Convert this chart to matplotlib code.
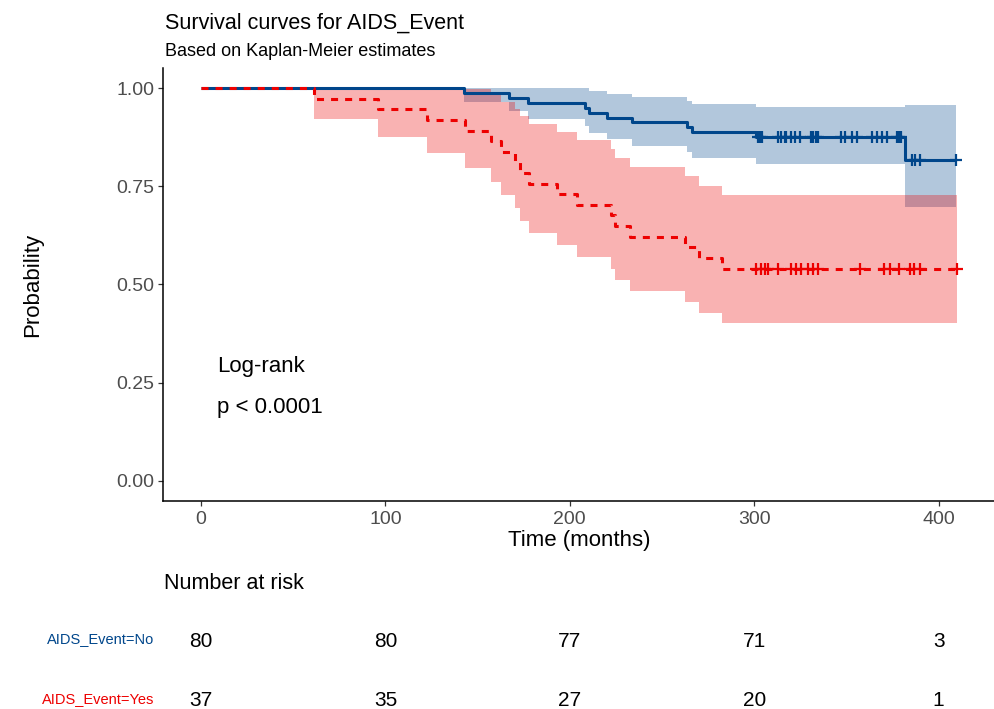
import numpy as np
import matplotlib
matplotlib.use("Agg")
import matplotlib.pyplot as plt
from matplotlib.transforms import blended_transform_factory

plt.rcParams['font.family'] = ['Liberation Sans', 'DejaVu Sans']

# ---------------- data ----------------
groups = ["AIDS_Event=No", "AIDS_Event=Yes"]
colors = ["#00468B", "#ED0000"]

# AIDS_Event = No  (n = 80)
no_event_times = [142.5, 167.0, 177.3, 208.5, 210.3, 220.2, 233.5, 263.6, 266.5, 301.0, 382.0]
no_censor_times = [302.0, 303.0, 304.3, 313.0, 314.5, 316.6, 317.5, 319.9, 322.1, 324.8,
                   330.8, 332.1, 333.3, 334.8, 347.1, 349.3, 352.9, 355.7, 363.8, 366.6,
                   369.3, 372.0, 377.5, 378.7, 379.8, 385.6, 387.1, 390.2, 409.2]
no_censor_counts = [3, 2, 2, 2, 2, 3, 2, 3, 2, 2,
                    2, 2, 3, 2, 2, 2, 2, 2, 2, 2,
                    2, 2, 2, 2, 3, 4, 4, 3, 3]

# AIDS_Event = Yes (n = 37)
yes_event_times = [61.5, 96.0, 122.5, 143.0, 157.0, 162.5, 170.2, 173.0, 177.7, 193.2,
                   204.1, 222.2, 224.5, 232.6, 262.6, 269.9, 282.6]
yes_censor_times = [301.2, 303.9, 305.7, 307.5, 312.9, 320.1, 322.8, 325.5, 329.2, 331.9,
                    334.6, 357.5, 370.2, 373.8, 378.3, 384.7, 386.5, 390.1, 410.1]
yes_censor_counts = [1, 2, 1, 1, 1, 1, 1, 1, 1, 1,
                     1, 1, 1, 1, 1, 1, 1, 1, 1]

risk_times = [0, 100, 200, 300, 400]
y_ticks = [0.00, 0.25, 0.50, 0.75, 1.00]
y_tick_labels = ["0.00", "0.25", "0.50", "0.75", "1.00"]
pval_text = "p < 0.0001"
method_text = "Log-rank"


def kaplan_meier(event_times, censor_times, censor_counts):
    ev = np.asarray(event_times, float)
    ce = np.repeat(np.asarray(censor_times, float), censor_counts)
    all_t = np.concatenate([ev, ce])
    ut = np.unique(ev)
    n = np.array([(all_t >= t).sum() for t in ut], float)
    d = np.array([(ev == t).sum() for t in ut], float)
    surv = np.cumprod(1 - d / n)
    var = np.cumsum(d / (n * (n - d)))
    se = np.sqrt(var)
    lo = surv * np.exp(-1.96 * se)
    hi = np.minimum(1.0, surv * np.exp(1.96 * se))
    tmax = all_t.max()
    x = np.concatenate([[0.0], ut, [tmax]])
    s = np.concatenate([[1.0], surv, [surv[-1]]])
    l = np.concatenate([[1.0], lo, [lo[-1]]])
    h = np.concatenate([[1.0], hi, [hi[-1]]])
    cu = np.unique(ce)
    cs = np.array([s[np.searchsorted(x[:-1], c, side='right') - 1] for c in cu])
    return x, s, l, h, cu, cs, all_t


W, H = 994, 709
fig = plt.figure(figsize=(W / 100, H / 100), dpi=100)
ax_l, ax_r, ax_t, ax_b = 163.2, 995.0, 68.4, 500.6
ax = fig.add_axes([ax_l / W, 1 - ax_b / H, (ax_r - ax_l) / W, (ax_b - ax_t) / H])

fits = [kaplan_meier(no_event_times, no_censor_times, no_censor_counts),
        kaplan_meier(yes_event_times, yes_censor_times, yes_censor_counts)]

# confidence bands
for fit, col in zip(fits, colors):
    x, s, l, h, cu, cs, _ = fit
    ax.fill_between(x, l, h, step='post', color=col, alpha=0.3, linewidth=0, zorder=1)

# curves + censor marks
styles = [dict(linestyle='-'), dict(linestyle=(0, (2.3, 2.3)))]
for fit, col, st in zip(fits, colors, styles):
    x, s, l, h, cu, cs, _ = fit
    ax.step(x, s, where='post', color=col, linewidth=2.2, solid_capstyle='butt',
            dash_capstyle='butt', zorder=3, **st)
    ax.plot(cu, cs, linestyle='none', marker='+', markersize=8, markeredgewidth=1.6,
            color=col, zorder=4)

tmax_all = max(f[6].max() for f in fits)
pad = 0.05 * tmax_all
ax.set_xlim(-pad, tmax_all + pad)
ax.set_ylim(-0.05, 1.05)
ax.set_xticks(risk_times)
ax.set_yticks(y_ticks)
ax.set_yticklabels(y_tick_labels)
for sp in ['top', 'right']:
    ax.spines[sp].set_visible(False)
for sp in ['left', 'bottom']:
    ax.spines[sp].set_linewidth(1.1)
    ax.spines[sp].set_color('black')
ax.tick_params(axis='both', length=3.5, width=0.9, color='#333333',
               labelcolor='#4D4D4D', labelsize=14)
ax.tick_params(axis='x', pad=4)
ax.tick_params(axis='y', pad=3)

ax.set_xlabel("Time (months)", fontsize=16, color='black')
ax.xaxis.set_label_coords(0.5, (ax_b - 530) / (ax_b - ax_t))
ax.set_ylabel("Probability", fontsize=16, color='black')
ax.yaxis.set_label_coords((43 - ax_l) / (ax_r - ax_l), 0.5)

ax.text(8.8, 0.278, method_text, fontsize=16, ha='left', va='baseline')
ax.text(8.8, 0.174, pval_text, fontsize=16, ha='left', va='baseline')

fig.text(165 / W, 1 - 29 / H, "Survival curves for AIDS_Event", fontsize=15.5,
         ha='left', va='baseline')
fig.text(165 / W, 1 - 56 / H, "Based on Kaplan-Meier estimates", fontsize=13,
         ha='left', va='baseline')

# risk table
fig.text(164 / W, 1 - 589 / H, "Number at risk", fontsize=15.5, ha='left', va='baseline')
tr = blended_transform_factory(ax.transData, fig.transFigure)
row_num_base = [647, 706]
row_lab_base = [643.5, 703.5]
for gi, (fit, col, name) in enumerate(zip(fits, colors, groups)):
    all_t = fit[6]
    for t in risk_times:
        nr = int((all_t >= t).sum())
        ax.text(t, 1 - row_num_base[gi] / H, str(nr), transform=tr, fontsize=15,
                ha='center', va='baseline', color='black')
    fig.text(154 / W, 1 - row_lab_base[gi] / H, name, fontsize=10.5, ha='right',
             va='baseline', color=col)

fig.savefig("out.png", dpi=100)
